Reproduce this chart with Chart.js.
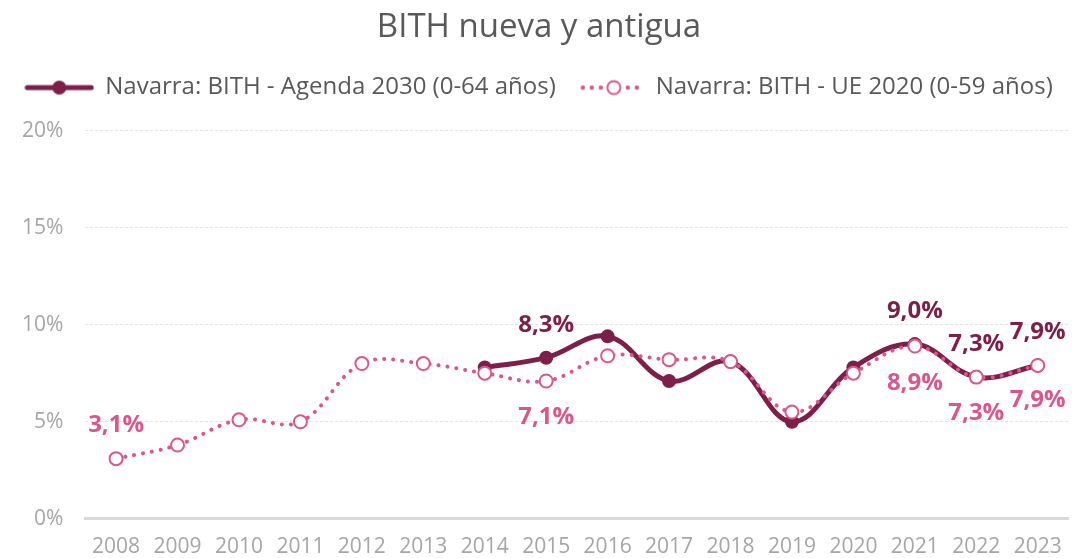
<!DOCTYPE html>
<html>
<head>
<meta charset="utf-8">
<title>BITH nueva y antigua</title>
<script src="https://cdn.jsdelivr.net/npm/chart.js@4.4.1/dist/chart.umd.min.js"></script>
<style>
  html, body { margin: 0; padding: 0; background: #fff; }
  #wrap { width: 1078px; height: 558px; position: relative; }
</style>
</head>
<body>
<div id="wrap"><canvas id="myChart"></canvas></div>
<script>
// Data
const years = ['2008', '2009', '2010', '2011', '2012', '2013', '2014', '2015',
               '2016', '2017', '2018', '2019', '2020', '2021', '2022', '2023'];
const agenda2030 = [null, null, null, null, null, null, 7.8, 8.3,
                    9.4, 7.1, 8.1, 5.0, 7.8, 9.0, 7.3, 7.9];
const ue2020 = [3.1, 3.8, 5.1, 5.0, 8.0, 8.0, 7.5, 7.1,
                8.4, 8.2, 8.1, 5.5, 7.5, 8.9, 7.3, 7.9];
const yTicks = [0, 5, 10, 15, 20];
const agendaLabelYears = ['2015', '2021', '2022', '2023'];
const ueLabelYears = ['2008', '2015', '2021', '2022', '2023'];

const DARK = '#7d2049';
const PINK = '#d9578b';
const FONT = "'Open Sans', 'Liberation Sans', sans-serif";

// small canvases used as legend symbols
function legendSymbol(kind) {
    const c = document.createElement('canvas');
    const ctx = c.getContext('2d');
    if (kind === 'dark') {
        c.width = 70; c.height = 18;
        ctx.strokeStyle = DARK;
        ctx.lineWidth = 5;
        ctx.lineCap = 'round';
        ctx.beginPath(); ctx.moveTo(3, 9); ctx.lineTo(67, 9); ctx.stroke();
        ctx.fillStyle = DARK;
        ctx.beginPath(); ctx.arc(35, 9, 7, 0, Math.PI * 2); ctx.fill();
    } else {
        c.width = 62; c.height = 18;
        ctx.fillStyle = PINK;
        [4, 13, 22, 49, 58].forEach(x => {
            ctx.beginPath(); ctx.arc(x, 9, 2.2, 0, Math.PI * 2); ctx.fill();
        });
        ctx.strokeStyle = PINK;
        ctx.lineWidth = 2;
        ctx.fillStyle = '#fff';
        ctx.beginPath(); ctx.arc(35, 9, 6.5, 0, Math.PI * 2); ctx.fill(); ctx.stroke();
    }
    return c;
}

const fmt = v => v.toFixed(1).replace('.', ',') + '%';

// draws the value labels next to chosen points
const valueLabels = {
    id: 'valueLabels',
    afterDatasetsDraw(chart, args, opts) {
        const ctx = chart.ctx;
        ctx.save();
        ctx.font = 'bold 24px ' + FONT;
        ctx.textAlign = 'center';
        ctx.textBaseline = 'middle';
        opts.items.forEach(item => {
            const ds = chart.data.datasets[item.dataset];
            const meta = chart.getDatasetMeta(item.dataset);
            item.years.forEach((yr, k) => {
                const i = years.indexOf(yr);
                const pt = meta.data[i];
                if (!pt || ds.data[i] == null) return;
                const dy = Array.isArray(item.dy) ? item.dy[k] : item.dy;
                ctx.fillStyle = item.color;
                ctx.fillText(fmt(ds.data[i]), pt.x, pt.y + dy);
            });
        });
        ctx.restore();
    }
};

// extra room under the legend
const legendMargin = {
    id: 'legendMargin',
    beforeInit(chart) {
        const fit = chart.legend.fit;
        chart.legend.fit = function () {
            fit.bind(chart.legend)();
            this.height += 21;
        };
    }
};

const legendImgs = { dark: legendSymbol('dark'), pink: legendSymbol('pink') };

const config = {
    type: 'line',
    data: {
        labels: years,
        datasets: [{
            label: 'Navarra: BITH - Agenda 2030 (0-64 años)',
            data: agenda2030,
            borderColor: DARK,
            backgroundColor: DARK,
            borderWidth: 5,
            tension: 0.38,
            pointRadius: 7,
            pointBorderWidth: 0,
            pointBackgroundColor: DARK,
            order: 2
        }, {
            label: 'Navarra: BITH - UE 2020 (0-59 años)',
            data: ue2020,
            borderColor: PINK,
            backgroundColor: '#fff',
            borderWidth: 4,
            borderDash: [0.1, 9],
            borderCapStyle: 'round',
            tension: 0.38,
            pointRadius: 6.5,
            pointBorderWidth: 2,
            pointBorderColor: PINK,
            pointBackgroundColor: '#fff',
            order: 1
        }]
    },
    options: {
        responsive: true,
        maintainAspectRatio: false,
        animation: false,
        layout: {
            padding: { left: 0, right: 0, top: 0, bottom: -18 }
        },
        scales: {
            x: {
                offset: true,
                grid: { display: false, drawTicks: false },
                border: { display: true, color: '#d9d9d9', width: 3 },
                ticks: {
                    autoSkip: false,
                    maxRotation: 0,
                    color: '#a6a6a6',
                    font: { family: FONT, size: 21 },
                    padding: 16
                }
            },
            y: {
                min: 0,
                max: 20,
                afterBuildTicks: axis => {
                    axis.ticks = yTicks.map(v => ({ value: v }));
                },
                grid: { color: '#e4e4e4', lineWidth: 1, drawTicks: false },
                border: { display: false, dash: [3, 2] },
                ticks: {
                    color: '#a6a6a6',
                    font: { family: FONT, size: 21 },
                    padding: 22,
                    callback: v => v + '%'
                }
            }
        },
        plugins: {
            title: {
                display: true,
                text: 'BITH nueva y antigua',
                color: '#595959',
                font: { family: FONT, size: 33, weight: 'normal' },
                padding: { top: 8, bottom: 8 }
            },
            legend: {
                display: true,
                position: 'top',
                labels: {
                    usePointStyle: true,
                    pointStyleWidth: 68,
                    padding: 20,
                    color: '#595959',
                    font: { family: FONT, size: 24 },
                    generateLabels: chart => chart.data.datasets.map((ds, i) => ({
                        text: ds.label,
                        datasetIndex: i,
                        pointStyle: i === 0 ? legendImgs.dark : legendImgs.pink,
                        fillStyle: ds.borderColor,
                        strokeStyle: ds.borderColor,
                        lineWidth: 0,
                        fontColor: '#595959',
                        hidden: !chart.isDatasetVisible(i)
                    }))
                }
            },
            tooltip: { enabled: false },
            valueLabels: {
                items: [
                    { dataset: 0, years: agendaLabelYears, color: DARK, dy: -33 },
                    { dataset: 1, years: ueLabelYears, color: PINK, dy: [-33, 36, 37, 36, 35] }
                ]
            }
        }
    },
    plugins: [valueLabels, legendMargin]
};

window.myChart = new Chart(document.getElementById('myChart'), config);
</script>
</body>
</html>
